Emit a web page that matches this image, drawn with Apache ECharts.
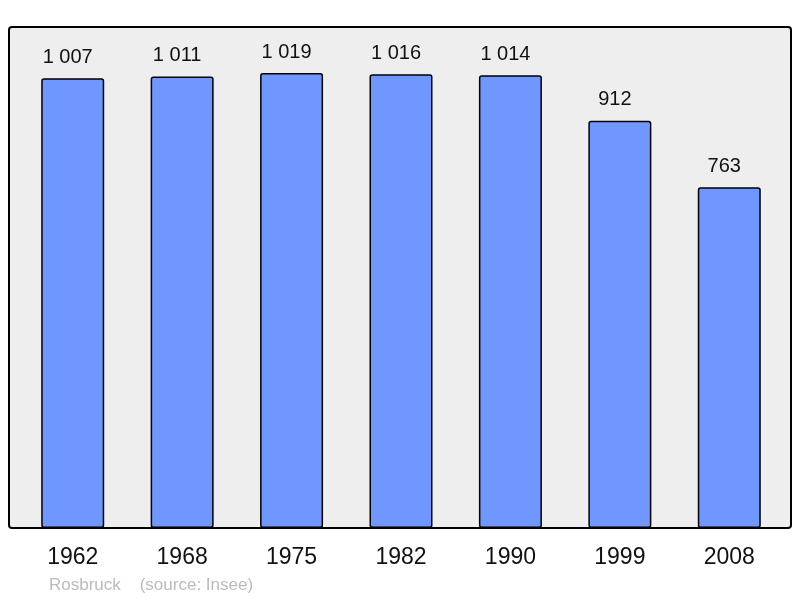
<!DOCTYPE html>
<html><head><meta charset="utf-8">
<script src="https://cdn.jsdelivr.net/npm/echarts@6/dist/echarts.min.js"></script>
<style>html,body{margin:0;padding:0;background:#fff}#c{width:800px;height:598px}</style>
</head><body><div id="c"></div>
<script>
var years = ['1962','1968','1975','1982','1990','1999','2008'];
var population = [1007, 1011, 1019, 1016, 1014, 912, 763];
var caption = 'Rosbruck    (source: Insee)';

function fmt(v){ var s = String(v); return s.length > 3 ? s.slice(0, s.length-3) + ' ' + s.slice(-3) : s; }

var chart = echarts.init(document.getElementById('c'), null, {renderer:'canvas'});
chart.setOption({
  animation:false,
  backgroundColor:'#ffffff',
  graphic:[
    {type:'rect', z:-10, shape:{x:9,y:27,width:782,height:501,r:3}, style:{fill:'#eeeeee', stroke:'#000', lineWidth:2}},
    {type:'text', left:49, top:577, style:{text:caption, fill:'#bbbbbb', font:'17px "Liberation Sans", Arial, sans-serif'}}
  ],
  grid:{left:18, right:16, top:27, bottom:70},
  xAxis:{type:'category', data:years, axisLine:{show:false}, axisTick:{show:false},
    axisLabel:{color:'#111', fontSize:23, fontFamily:'"Liberation Sans", Arial, sans-serif', margin:18}},
  yAxis:{type:'value', min:0, max:1122, show:false, splitLine:{show:false}},
  series:[{type:'bar', data:population, barWidth:63,
    itemStyle:{color:'#7096ff', borderColor:'#000', borderWidth:1.5, borderRadius:2},
    label:{show:true, position:'top', distance:11, offset:[-5,0], color:'#111', fontSize:20,
      fontFamily:'"Liberation Sans", Arial, sans-serif', formatter:function(p){return fmt(p.value);}}
  }]
});
</script></body></html>
